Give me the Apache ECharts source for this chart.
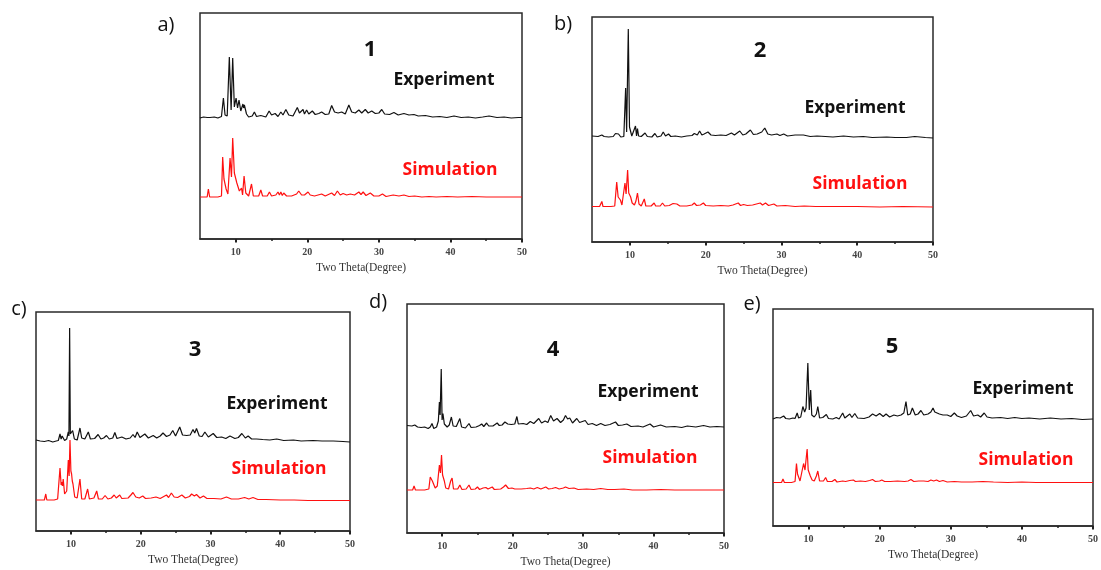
<!DOCTYPE html>
<html>
<head>
<meta charset="utf-8">
<script src="https://cdn.jsdelivr.net/npm/echarts@6/dist/echarts.min.js"></script>
<style>html,body{margin:0;padding:0;background:#fff;}#c{width:1101px;height:570px;}</style>
</head>
<body>
<div id="c"></div>
<script>
// ---- Data: [2θ (degree), intensity (a.u., stacked with offset)] ----
const xTicksMajor = [10, 20, 30, 40, 50];
const xTicksMinor = [15, 25, 35, 45];
const axisName = 'Two Theta(Degree)';
const panelLabels = ['a)', 'b)', 'c)', 'd)', 'e)'];
const compoundNames = ['1', '2', '3', '4', '5'];
const seriesNames = ['Experiment', 'Simulation'];
const yMax = [226, 225, 219, 229, 217];

const expA = [[5,121],[5.5,122],[6,121.5],[6.2,123.5],[6.4,121.5],[7,122],[7.5,121],[8,122.5],[8.27,141],[8.5,124],[8.8,123],[9.1,182],[9.35,129],[9.57,181],[9.8,132],[10.04,141],[10.25,131],[10.45,139],[10.7,128],[11.0,135],[11.1,131],[11.2,134],[11.5,125],[11.8,122],[12.3,123],[12.6,127],[12.9,122.5],[13.5,123.5],[14.2,122],[14.66,128],[15,124],[15.5,125.5],[15.9,122.5],[16.3,127],[16.6,124],[17.0,129.5],[17.4,124],[18,123],[18.6,131.5],[18.9,126],[19.4,129.5],[19.6,125],[19.9,129],[20.2,125],[20.7,128],[21.1,124.5],[21.6,125.5],[22.0,127],[22.5,124.5],[23,125],[23.4,133.5],[23.8,127],[24.3,126],[24.8,127],[25.3,125],[25.8,134],[26.2,127],[26.7,126],[27.2,129],[27.6,126],[28.1,129.5],[28.5,126],[29.0,128],[29.5,125.5],[30.0,126],[30.4,129.5],[30.8,125],[31.5,124.5],[32.1,126.5],[32.7,124],[33.5,125.5],[34.2,124],[34.9,124.5],[35.5,123],[36.5,123.5],[37.5,122],[38.5,122.5],[39.5,121.5],[40.5,123],[41.5,121.5],[42.5,122],[43.5,121],[44.5,122],[45.4,123],[46.5,121.5],[47.5,122],[48.5,121],[49.5,121.5],[50,121.5]];
const simA = [[5,42],[6,42],[6.17,50],[6.35,42],[7.5,42],[8.0,43],[8.17,82],[8.35,60],[8.5,61],[8.65,50],[8.9,45],[9.2,81],[9.4,62],[9.57,101],[9.8,66],[10.0,66],[10.15,56],[10.3,57],[10.5,48],[10.8,51],[10.95,44],[11.16,63],[11.4,46],[11.8,43],[12.2,55],[12.45,43],[13.2,43],[13.5,49],[13.75,43],[14.4,43],[14.7,47],[15.0,43],[15.6,44],[15.9,47],[16.1,44],[16.3,47],[16.5,43.5],[16.7,46],[17.1,43],[17.8,43],[18.5,45],[18.8,48],[19.2,44],[19.6,44],[20.1,47],[20.4,44],[21,43],[22,45],[22.5,43],[23.4,46],[23.8,43.5],[24.2,48],[24.6,44],[25,45.5],[25.5,44],[26,45],[26.6,44],[27.2,47],[27.5,44.5],[27.8,47],[28.2,43.5],[28.8,46],[29.3,43],[30,43],[30.5,45],[31,42.5],[32,44],[32.8,43],[33.5,44],[34.2,42.5],[35,43],[36,42],[37,42.5],[38,42],[39.5,42.5],[41,42],[43,42.5],[45,42],[47,42],[50,42]];

const expB = [[5,106],[5.8,105.5],[6.3,107],[6.6,105.5],[7.2,105],[7.8,105.5],[8.1,108.5],[8.35,107],[8.5,108],[8.8,105],[9.2,105.5],[9.44,154],[9.57,110],[9.79,213],[9.95,115],[10.1,114],[10.25,106],[10.5,106.5],[10.74,116],[10.88,106],[11.0,113.5],[11.15,106],[11.5,105.5],[12.0,109],[12.3,105.5],[12.9,105],[13.3,108.5],[13.6,105],[14.1,106],[14.4,110],[14.7,106],[15.1,108],[15.4,105.5],[16,106],[16.8,105],[17.5,106],[18.2,106.5],[18.5,108.5],[18.9,107],[19.2,111],[19.5,107],[19.8,108],[20.3,110],[20.7,107],[21.3,106.5],[22,107],[22.7,106.5],[23.4,109],[23.8,107],[24.5,111],[24.9,107],[25.3,108],[25.9,112],[26.3,107.5],[26.8,108],[27.4,110],[27.8,114],[28.2,108],[28.7,107],[29.4,108],[29.8,106.5],[30.3,108],[30.8,106],[31.8,107],[32.9,107],[33.8,105.5],[34.7,106],[35.8,105.5],[36.8,105],[38.2,106],[39.5,105],[40.8,105.5],[42,104.5],[43.9,105],[45,104.5],[46.5,104.5],[47.6,105.5],[49,104.5],[50,104]];
const simB = [[5,35.5],[6,35.5],[6.3,40.5],[6.45,35.5],[7.5,35.5],[8.0,36],[8.26,60],[8.45,45],[8.6,46],[8.75,42],[8.95,37],[9.35,59],[9.5,48],[9.7,72],[9.85,49],[10.0,50],[10.1,45],[10.3,39],[10.6,37],[10.8,41],[11.0,49],[11.2,38],[11.5,36],[11.9,43],[12.1,36],[12.8,36],[13.2,39],[13.4,36],[14.0,36],[14.3,39],[14.6,36],[15.2,36.5],[15.7,38.5],[15.9,36.5],[16.2,38],[16.6,36],[17.5,36],[18.2,37],[18.5,39],[18.8,36.5],[19.3,37],[19.7,39],[20,36.5],[21,36],[22,36.5],[23,36],[23.6,37],[24.3,39],[24.6,36.5],[25,37.5],[25.5,36.5],[26.2,37],[27.2,39],[27.5,37],[27.9,39],[28.3,36.5],[29.0,38],[29.4,36],[30.5,36.5],[31.8,35.5],[33,36],[34.5,35.5],[36,35.5],[38,35.5],[40,35.5],[43,35],[46,35.5],[50,35]];

const expC = [[5,91],[5.6,90],[6.2,89.5],[6.8,90.5],[7.4,89],[7.9,90],[8.2,90.5],[8.44,97],[8.6,92],[8.75,95],[8.9,96.5],[9.1,90.5],[9.4,92],[9.63,99],[9.72,95],[9.82,203],[9.92,97],[10.05,96],[10.25,100.5],[10.5,92],[10.9,91],[11.3,103],[11.55,93],[12.0,92],[12.5,99],[12.8,92],[13.4,92.5],[13.9,96.5],[14.3,92],[14.7,93],[15.1,95.5],[15.5,92],[16.0,93],[16.3,98.5],[16.6,92.5],[17.3,94],[17.9,92],[18.5,93],[18.9,96.5],[19.2,93.5],[19.5,99],[19.9,93.5],[20.6,97],[21.1,93],[21.8,95.5],[22.3,93],[22.8,95],[23.2,98],[23.7,94.5],[24.2,96],[24.6,100.5],[25.0,95],[25.6,104],[26.0,96],[26.6,95.5],[27.1,96],[27.5,101.5],[27.75,98],[28.0,102.5],[28.4,95],[28.8,94.5],[29.2,99],[29.7,94],[30.4,97.5],[30.9,93.5],[31.6,94],[32.2,92.5],[32.8,95],[33.5,92.5],[34.0,93.5],[34.5,97.5],[35.0,93],[35.4,95],[35.9,92],[36.6,92],[37.5,91.5],[38.5,91],[39.5,92],[40.5,90.5],[41.9,91],[43,90],[44.7,90.5],[46,90],[47.6,90],[49,89.5],[50,89]];
const simC = [[5,31],[6.2,31],[6.4,37],[6.55,31],[7.6,31],[8.1,32],[8.44,63],[8.6,46],[8.7,49],[8.8,45],[8.9,52],[9.1,37],[9.4,40],[9.63,71],[9.75,55],[9.87,91],[10.0,60],[10.1,57],[10.2,50],[10.3,47],[10.55,34],[10.9,33],[11.3,52],[11.55,32],[12.0,32],[12.4,42],[12.65,32],[13.3,33],[13.7,40],[13.95,32],[14.5,32],[14.9,35.5],[15.3,32],[15.8,33],[16.2,36],[16.5,33],[17.0,36],[17.3,32.5],[18.2,33],[18.6,36],[18.9,38.5],[19.3,34],[19.8,33],[20.3,35],[20.7,32.5],[21.5,33],[22.2,34],[22.8,32.5],[23.7,36],[24.0,33.5],[24.4,38],[24.8,34],[25.3,33.5],[25.9,36],[26.4,33],[27.0,34.5],[27.3,37],[27.7,35],[28.0,36.5],[28.5,33],[29.0,35],[29.5,32.5],[30.5,32.5],[31.5,32],[32.3,34],[33,32],[34,32],[34.9,33.5],[35.5,32],[36.1,33.5],[36.8,31.5],[38,31.5],[40,31],[42,31],[44,30.5],[47,30.5],[50,30.5]];

const expD = [[5,107.5],[5.2,106.5],[5.7,107],[6.1,108],[6.5,106],[7.0,105.5],[7.5,106],[8.0,104.5],[8.3,106],[8.55,109.5],[8.8,104.5],[9.2,106],[9.45,112],[9.6,131],[9.7,118],[9.86,164],[9.98,113],[10.1,119.5],[10.3,109],[10.7,106],[11.0,108],[11.3,116],[11.55,107],[12.0,106.5],[12.5,114.5],[12.75,106],[13.3,105],[13.8,109.5],[14.1,105.5],[14.8,106],[15.3,107.5],[15.6,109],[15.9,106.5],[16.3,110],[16.6,107],[17.2,107],[17.8,110],[18.1,107.5],[18.5,108],[18.9,111],[19.3,109],[19.8,108.5],[20.3,109],[20.6,116.5],[20.8,109],[21.5,109.5],[22.0,108.5],[22.5,111.5],[23.0,109.5],[23.7,114.5],[24.1,110],[24.6,112],[25.0,110.5],[25.4,117.5],[25.8,112],[26.3,114.5],[26.8,110.5],[27.2,113],[27.5,117.5],[27.8,114],[28.1,115],[28.5,110],[29.1,114.5],[29.5,110.5],[30.3,112.5],[30.7,108.5],[31.3,109.5],[31.9,107.5],[32.5,109.5],[33.1,107.5],[33.8,108.5],[34.6,111],[35.0,107.5],[35.6,108],[36.2,109],[36.8,106.5],[37.8,107],[38.5,106],[39.5,109],[40.0,106],[41.0,108],[41.8,106],[43,106.5],[44,105.5],[44.8,107],[46,106],[47.1,107.5],[48,106],[49,106.5],[50,106]];
const simD = [[5,43],[5.8,43],[6.0,47],[6.2,43],[7.5,43],[8.1,44],[8.3,56],[8.45,58],[8.6,52],[8.8,53],[9.0,45],[9.3,47],[9.6,68],[9.75,60],[9.9,78],[10.05,58],[10.15,57],[10.3,52],[10.5,45],[10.9,44],[11.2,52],[11.4,55],[11.6,44],[12.2,44],[12.5,48],[12.8,43.5],[13.4,44],[13.8,48],[14.1,43.5],[14.7,44],[15.0,46],[15.3,43.5],[15.8,45],[16.2,45.5],[16.5,44],[17.1,46],[17.4,43.5],[18.3,44],[18.7,46],[19.0,48],[19.4,44.5],[19.9,45],[20.3,44],[21.2,44],[22.0,44.5],[22.5,45],[23.0,44],[23.5,45.5],[24.0,44],[24.7,46],[25.1,44],[25.6,44.5],[26.1,45.5],[26.6,44],[27.2,45],[27.5,46],[28.0,44.5],[28.7,45],[29.3,43.5],[30.5,44],[31.5,43.5],[32.5,44.5],[33.5,43.5],[34.5,43.5],[35.8,44],[37,43],[39,43],[41,43.5],[43,43],[45,43],[47,43],[50,43]];

const expE = [[5,107],[5.5,108.5],[6.0,108],[6.5,110],[6.8,107.5],[7.3,107],[7.8,108],[8.1,107.5],[8.4,113],[8.6,108],[8.9,109],[9.2,119.5],[9.45,114],[9.65,118],[9.9,163],[10.1,116],[10.3,136],[10.45,111],[10.8,109],[11.1,112],[11.3,119.5],[11.55,108],[12.0,108.5],[12.5,111.5],[12.8,107.5],[13.4,107],[13.9,108.5],[14.3,107],[14.8,113],[15.1,108],[15.8,112],[16.1,108.5],[16.5,112.5],[16.9,108],[17.8,107.5],[18.5,109],[19.0,112],[19.5,110],[20.0,112.5],[20.5,109.5],[20.9,112],[21.4,109],[22.0,111],[22.5,110],[23.0,111],[23.4,113],[23.7,124.5],[23.95,111],[24.3,112],[24.6,118],[25.0,111],[25.4,112],[25.8,115.5],[26.2,111],[26.8,112],[27.2,114],[27.5,118],[27.75,114],[28.0,116],[28.4,112],[28.9,111],[29.5,111],[30.0,109.5],[30.5,113],[30.9,110],[31.5,108.5],[32.2,110],[32.8,115.5],[33.2,110],[33.8,111],[34.2,109],[34.7,113],[35.1,109],[35.8,108],[37,108.5],[38,107.5],[39,108.5],[40,107.5],[41,108],[42.5,107],[44,108],[45.5,107],[47,107.5],[48.5,106.5],[50,107]];
const simE = [[5,43.5],[6.2,43.5],[6.4,47],[6.6,43.5],[7.6,43.5],[8.1,44.5],[8.3,62.5],[8.45,52],[8.6,50],[8.8,45],[9.05,47],[9.3,62.5],[9.5,56],[9.8,77],[9.95,56],[10.1,56],[10.25,50],[10.5,46],[10.8,45],[11.1,50],[11.3,55],[11.55,45],[12.1,45],[12.4,48.5],[12.65,44.5],[13.3,44.5],[13.7,46.5],[14.0,44],[14.8,45],[15.2,44.5],[15.8,45.5],[16.3,46],[16.6,44.5],[17.3,45],[18,44.5],[18.6,45.5],[19.0,46.5],[19.4,44.5],[20.0,45],[20.3,46],[20.7,44.5],[21.5,44.5],[22.5,45],[23.5,44.5],[24.0,45],[24.4,46.5],[24.8,44.5],[25.5,45],[26.2,45],[26.8,44.5],[27.2,46],[27.6,45],[28.0,46],[28.4,44.5],[28.9,45.5],[29.5,44],[30.5,44.5],[31.5,44],[33,44],[34.5,44.5],[36,44],[38,43.5],[40,44],[42,43.5],[45,43.5],[48,43.5],[50,43.5]];

const expData = [expA, expB, expC, expD, expE];
const simData = [simA, simB, simC, simD, simE];

// ---- Layout (pixels) ----
const grids = [
  {left: 200, top: 13, width: 322, height: 226},
  {left: 592, top: 17, width: 341, height: 225},
  {left: 36,  top: 312, width: 314, height: 219},
  {left: 407, top: 304, width: 317, height: 229},
  {left: 773, top: 309, width: 321, height: 217}
];
const textPos = [
  {lab: [166, 25], num: [370, 50], exp: [444, 80],  sim: [450, 170]},
  {lab: [563, 24], num: [760, 51], exp: [855, 108], sim: [860, 184]},
  {lab: [19, 309], num: [195, 350], exp: [277, 404], sim: [279, 469]},
  {lab: [378, 302], num: [553, 350], exp: [648, 392], sim: [650, 458]},
  {lab: [752, 304], num: [892, 347], exp: [1023, 389], sim: [1026, 460]}
];

const EXP_COLOR = '#111111';
const SIM_COLOR = '#ff1010';

const option = {
  animation: false,
  backgroundColor: '#ffffff',
  grid: [], xAxis: [], yAxis: [], series: [], graphic: []
};

grids.forEach((g, i) => {
  option.grid.push(Object.assign({show: true, borderColor: '#2a2a2a', borderWidth: 1.5, backgroundColor: 'transparent'}, g));
  option.xAxis.push({
    type: 'value', gridIndex: i, min: 5, max: 50, position: 'bottom',
    name: axisName, nameLocation: 'middle', nameGap: 23,
    nameTextStyle: {fontFamily: 'Liberation Serif', fontSize: 11.5, color: '#333'},
    axisLine: {show: true, lineStyle: {color: '#2a2a2a', width: 1.5}},
    axisTick: {show: true, inside: false, length: 3.5, customValues: xTicksMajor, lineStyle: {color: '#222', width: 2}},
    axisLabel: {show: true, customValues: xTicksMajor, margin: 8, fontFamily: 'Liberation Serif', fontSize: 10, fontWeight: 'bold', color: '#444'},
    splitLine: {show: false}
  });
  option.xAxis.push({
    type: 'value', gridIndex: i, min: 5, max: 50, position: 'bottom',
    axisLine: {show: false},
    axisTick: {show: true, inside: false, length: 2, customValues: xTicksMinor, lineStyle: {color: '#222', width: 1.5}},
    axisLabel: {show: false},
    splitLine: {show: false}
  });
  option.yAxis.push({
    type: 'value', gridIndex: i, min: 0, max: yMax[i], show: false, splitLine: {show: false}
  });
  option.series.push({
    name: seriesNames[0], type: 'line', xAxisIndex: 2 * i, yAxisIndex: i,
    data: expData[i], symbol: 'none', showSymbol: false, silent: true,
    lineStyle: {color: EXP_COLOR, width: 1.2}
  });
  option.series.push({
    name: seriesNames[1], type: 'line', xAxisIndex: 2 * i, yAxisIndex: i,
    data: simData[i], symbol: 'none', showSymbol: false, silent: true,
    lineStyle: {color: SIM_COLOR, width: 1.2}
  });
  const t = textPos[i];
  const mk = (pos, txt, font, fill) => ({
    type: 'text', x: pos[0], y: pos[1], silent: true,
    style: {text: txt, font: font, fill: fill, textAlign: 'center', textVerticalAlign: 'middle', align: 'center', verticalAlign: 'middle'}
  });
  option.graphic.push(mk(t.lab, panelLabels[i], '20px "Open Sans"', '#111'));
  option.graphic.push(mk(t.num, compoundNames[i], 'bold 22px "Open Sans"', '#111'));
  option.graphic.push(mk(t.exp, seriesNames[0], 'bold 17.5px "Open Sans"', '#111'));
  option.graphic.push(mk(t.sim, seriesNames[1], 'bold 17.5px "Open Sans"', SIM_COLOR));
});

const chart = echarts.init(document.getElementById('c'), null, {renderer: 'canvas'});
chart.setOption(option);
</script>
</body>
</html>
